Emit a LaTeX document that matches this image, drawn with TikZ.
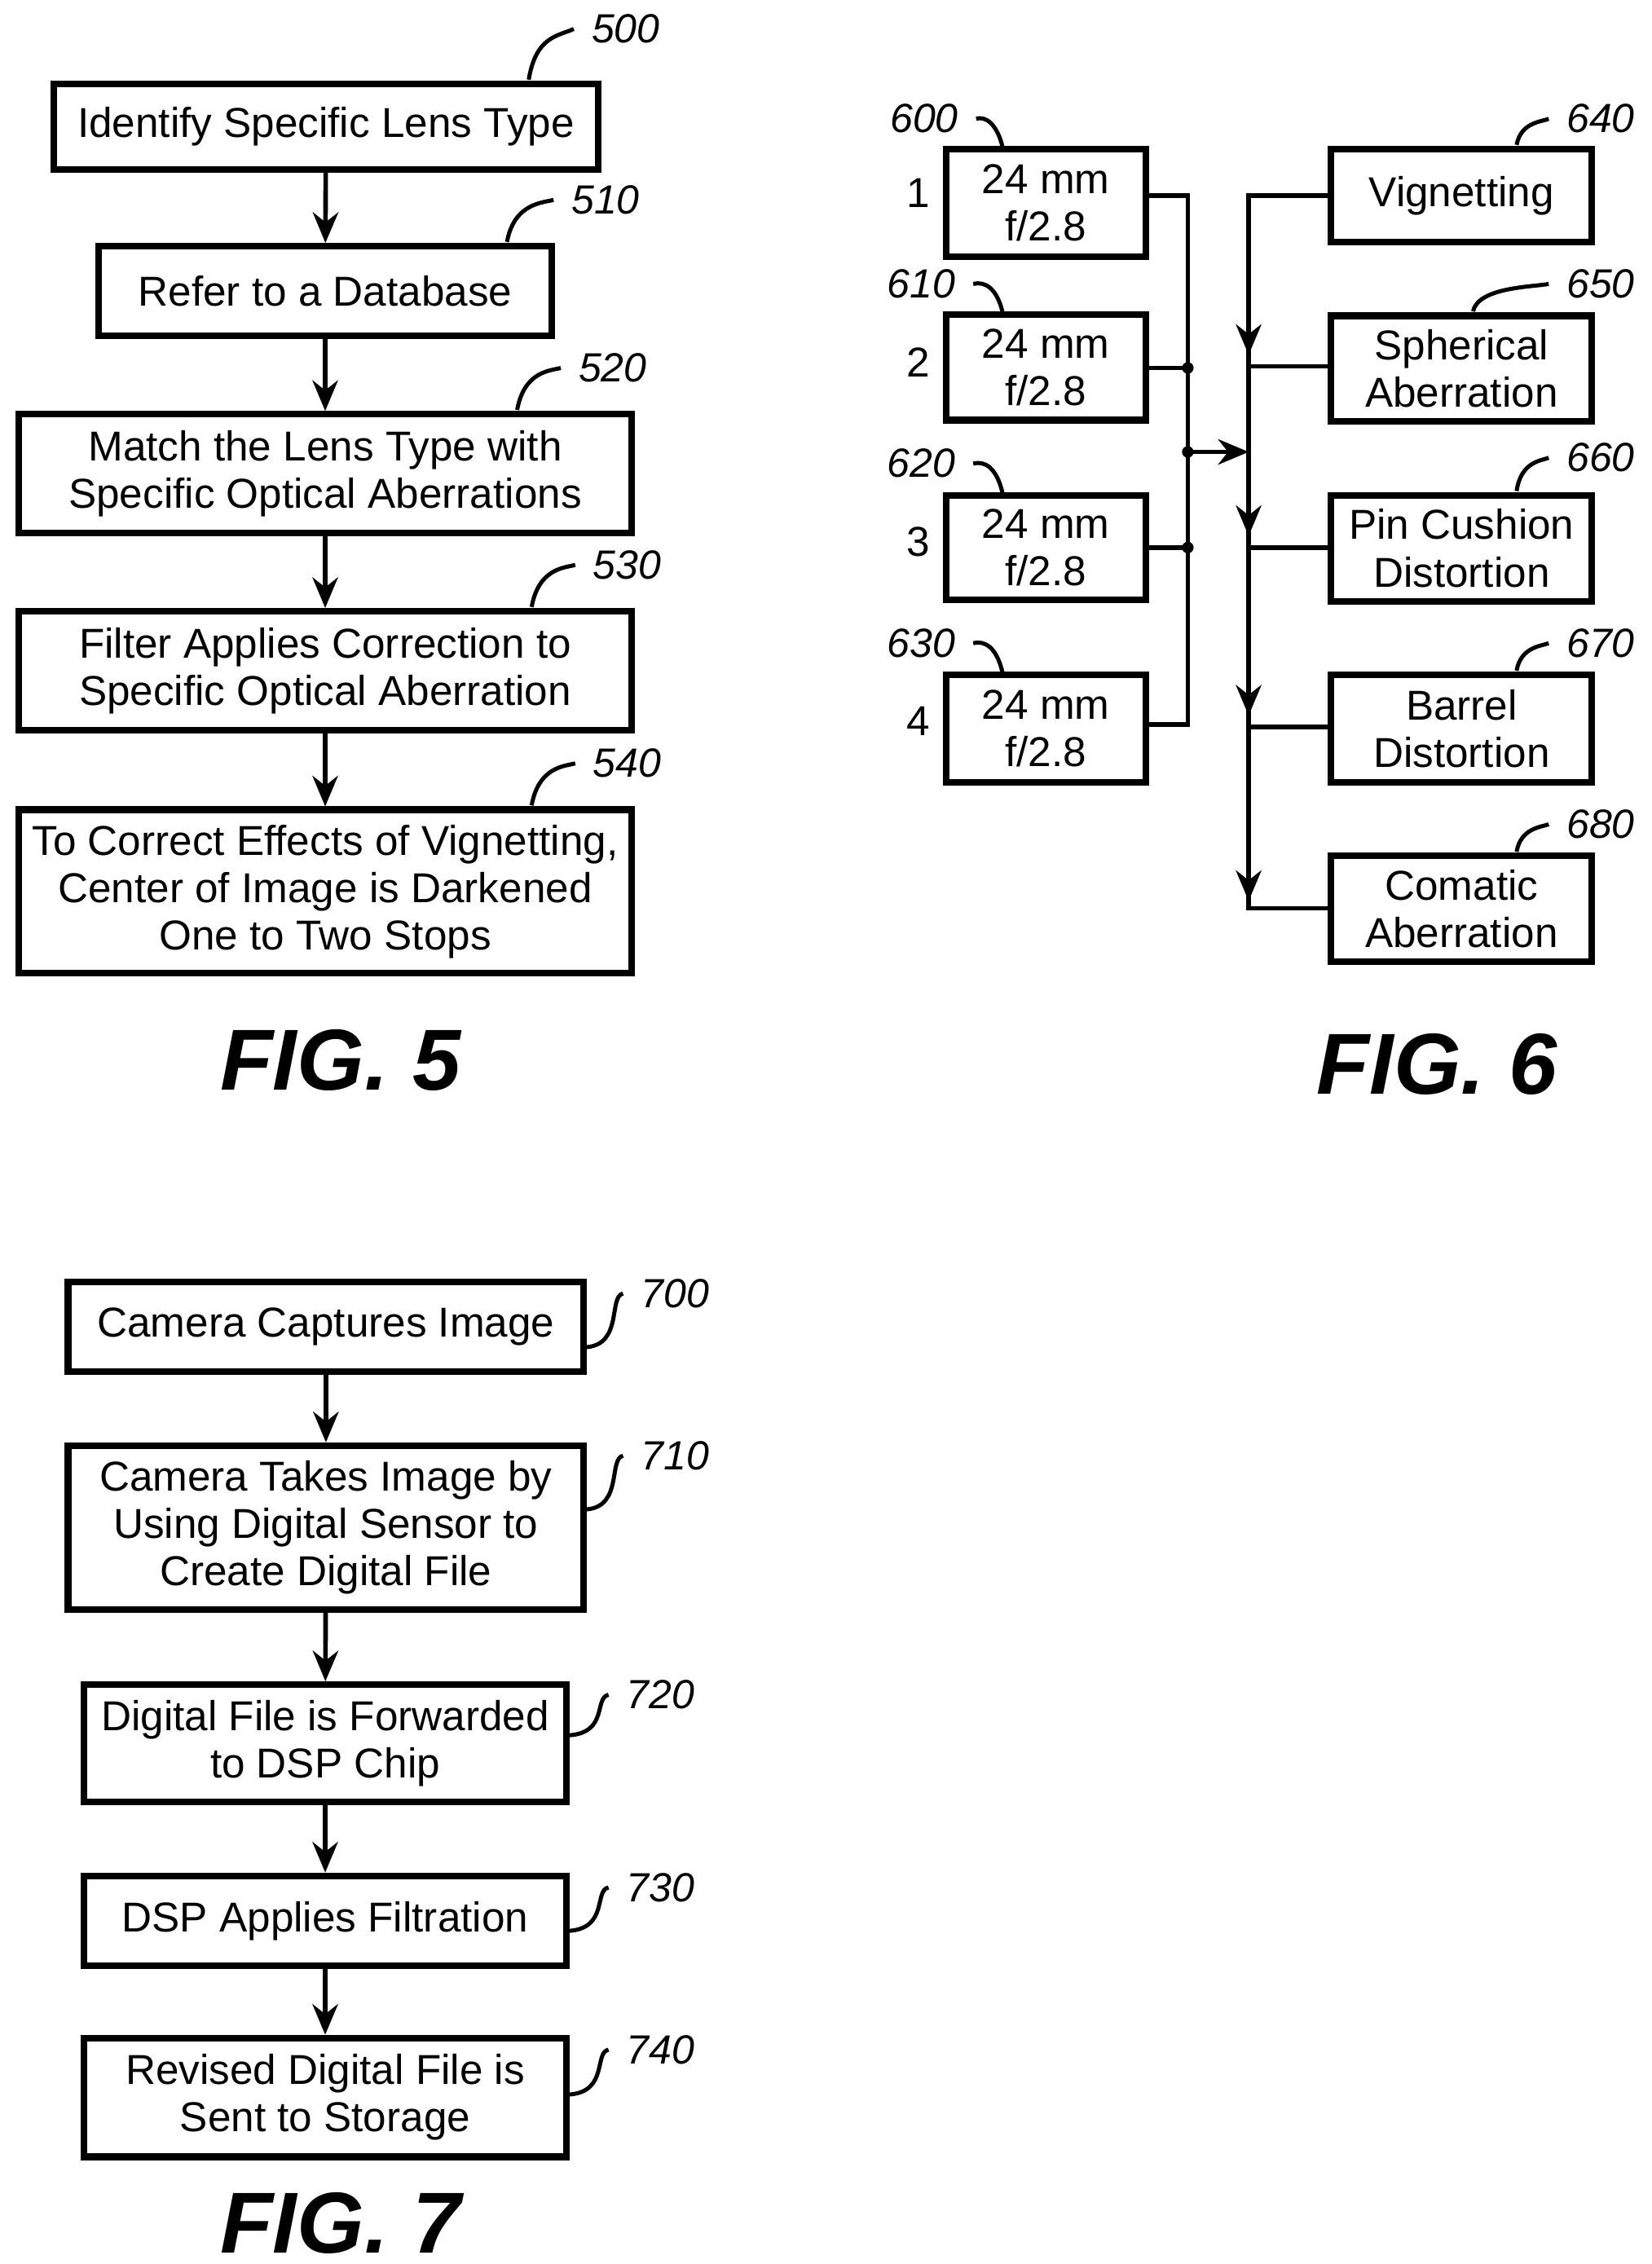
\documentclass[tikz,border=0pt]{standalone}
\usepackage{fontspec}
\setmainfont{Liberation Sans}
\usetikzlibrary{arrows.meta}
\begin{document}
\begin{tikzpicture}[x=0.01cm,y=-0.01cm,
  bx/.style={draw,line width=1.3pt,align=center,font=\fontsize{8.2}{9.3}\selectfont,inner sep=0pt},
  ar/.style={line width=0.9pt,-{Stealth[length=6pt,width=5pt]}},
  ln/.style={line width=0.9pt},
  lab/.style={font=\itshape\fontsize{8}{10}\selectfont},
  fig/.style={font=\bfseries\itshape\fontsize{17}{20}\selectfont},
  sq/.style={line width=0.8pt}]
\useasboundingbox (0,0) rectangle (1140,1563);
\newcommand{\bxat}[6]{\node[bx,minimum width={(#3-#2)*0.01cm},minimum height={(#5-#4)*0.01cm}] (#1) at ({(#2+#3)/2},{(#4+#5)/2}) {#6};}
% FIG 5
\bxat{b500}{37}{413}{58}{117}{Identify Specific Lens Type}
\bxat{b510}{68}{381}{170}{232}{Refer to a Database}
\bxat{b520}{13}{436}{286}{368}{Match the Lens Type with\\Specific Optical Aberrations}
\bxat{b530}{13}{436}{422}{504}{Filter Applies Correction to\\Specific Optical Aberration}
\bxat{b540}{13}{436}{559}{672}{To Correct Effects of Vignetting,\\Center of Image is Darkened\\One to Two Stops}
\draw[ar] (b500) -- (b510); \draw[ar] (b510) -- (b520); \draw[ar] (b520) -- (b530); \draw[ar] (b530) -- (b540);
\node[lab] (l500) at (432,20) {500}; \node[lab] (l510) at (418,138) {510}; \node[lab] (l520) at (423,254) {520};
\node[lab] (l530) at (433,390) {530}; \node[lab] (l540) at (433,527) {540};
\coordinate (s500) at (365,55); \draw[sq] (s500) .. controls (370,25) and (385,25) .. (l500.west);
\coordinate (s510) at (350,167); \draw[sq] (s510) .. controls (355,140) and (375,140) .. (l510.west);
\coordinate (s520) at (357,283); \draw[sq] (s520) .. controls (362,256) and (380,256) .. (l520.west);
\coordinate (s530) at (367,419); \draw[sq] (s530) .. controls (372,392) and (390,392) .. (l530.west);
\coordinate (s540) at (367,556); \draw[sq] (s540) .. controls (372,529) and (390,529) .. (l540.west);
\node[fig] (f5) at (235,732) {FIG. 5};
% FIG 6
\bxat{b600}{653}{791}{103}{177}{24 mm\\f/2.8}
\bxat{b610}{653}{791}{217}{290}{24 mm\\f/2.8}
\bxat{b620}{653}{791}{342}{414}{24 mm\\f/2.8}
\bxat{b630}{653}{791}{466}{540}{24 mm\\f/2.8}
\node[font=\fontsize{8.2}{10}\selectfont] (n1) at (634,133) {1};
\node[font=\fontsize{8.2}{10}\selectfont] (n2) at (634,250) {2};
\node[font=\fontsize{8.2}{10}\selectfont] (n3) at (634,374) {3};
\node[font=\fontsize{8.2}{10}\selectfont] (n4) at (634,498) {4};
\node[lab] (l600) at (638,82) {600}; \node[lab] (l610) at (636,196) {610};
\node[lab] (l620) at (636,320) {620}; \node[lab] (l630) at (636,444) {630};
\coordinate (s600) at (692,101); \draw[sq] (l600.east) .. controls (680,80) and (688,85) .. (s600);
\coordinate (s610) at (692,215); \draw[sq] (l610.east) .. controls (680,194) and (688,199) .. (s610);
\coordinate (s620) at (692,340); \draw[sq] (l620.east) .. controls (680,318) and (688,323) .. (s620);
\coordinate (s630) at (692,464); \draw[sq] (l630.east) .. controls (680,442) and (688,447) .. (s630);
\bxat{b640}{919}{1099}{103}{167}{Vignetting}
\bxat{b650}{919}{1099}{218}{291}{Spherical\\Aberration}
\bxat{b660}{919}{1099}{342}{415}{Pin Cushion\\Distortion}
\bxat{b670}{919}{1099}{466}{540}{Barrel\\Distortion}
\bxat{b680}{919}{1099}{591}{664}{Comatic\\Aberration}
\node[lab] (l640) at (1105,82) {640}; \node[lab] (l650) at (1105,196) {650};
\node[lab] (l660) at (1105,316) {660}; \node[lab] (l670) at (1105,444) {670};
\node[lab] (l680) at (1105,569) {680};
\coordinate (s640) at (1047,100); \draw[sq] (s640) .. controls (1050,84) and (1065,84) .. (l640.west);
\coordinate (s650) at (1017,215); \draw[sq] (s650) .. controls (1020,198) and (1060,198) .. (l650.west);
\coordinate (s660) at (1047,339); \draw[sq] (s660) .. controls (1050,318) and (1065,318) .. (l660.west);
\coordinate (s670) at (1047,463); \draw[sq] (s670) .. controls (1050,446) and (1065,446) .. (l670.west);
\coordinate (s680) at (1047,588); \draw[sq] (s680) .. controls (1050,571) and (1065,571) .. (l680.west);
\coordinate (lb1) at (820,135); \coordinate (lb2) at (820,254); \coordinate (lb3) at (820,378); \coordinate (lb4) at (820,500);
\coordinate (jm) at (820,312); \coordinate (jr) at (862,312);
\draw[ln] (b600.east|-lb1) -- (lb1) -- (lb4) -- (b630.east|-lb4);
\draw[ln] (b610.east|-lb2) -- (lb2); \draw[ln] (b620.east|-lb3) -- (lb3);
\fill (lb2) circle (4); \fill (lb3) circle (4); \fill (jm) circle (4);
\draw[ar] (jm) -- (jr);
\coordinate (rb1) at (862,135); \coordinate (rb2) at (862,253); \coordinate (rb3) at (862,378);
\coordinate (rb4) at (862,502); \coordinate (rb5) at (862,627);
\draw[ln] (b640.west|-rb1) -- (rb1) -- (rb5) -- (b680.west|-rb5);
\draw[ln] (rb2) -- (b650.west|-rb2); \draw[ln] (rb3) -- (b660.west|-rb3); \draw[ln] (rb4) -- (b670.west|-rb4);
\draw[ar] (862,200) -- (862,245); \draw[ar] (862,330) -- (862,370);
\draw[ar] (862,450) -- (862,494); \draw[ar] (862,580) -- (862,622);
\node[fig] (f6) at (992,735) {FIG. 6};
% FIG 7
\bxat{b700}{47}{403}{885}{947}{Camera Captures Image}
\bxat{b710}{47}{403}{998}{1111}{Camera Takes Image by\\Using Digital Sensor to\\Create Digital File}
\bxat{b720}{58}{391}{1163}{1244}{Digital File is Forwarded\\to DSP Chip}
\bxat{b730}{58}{391}{1295}{1357}{DSP Applies Filtration}
\bxat{b740}{58}{391}{1407}{1489}{Revised Digital File is\\Sent to Storage}
\draw[ar] (b700) -- (b710); \draw[ar] (b710) -- (b720); \draw[ar] (b720) -- (b730); \draw[ar] (b730) -- (b740);
\node[lab] (l700) at (466,893) {700}; \node[lab] (l710) at (466,1005) {710};
\node[lab] (l720) at (456,1170) {720}; \node[lab] (l730) at (456,1303) {730};
\node[lab] (l740) at (456,1415) {740};
\coordinate (s700) at (405,930); \draw[sq] (s700) .. controls (430,928) and (420,895) .. (l700.west);
\coordinate (s710) at (405,1042); \draw[sq] (s710) .. controls (430,1040) and (420,1007) .. (l710.west);
\coordinate (s720) at (393,1198) ; \draw[sq] (s720) .. controls (420,1196) and (410,1172) .. (l720.west);
\coordinate (s730) at (393,1333); \draw[sq] (s730) .. controls (420,1331) and (410,1305) .. (l730.west);
\coordinate (s740) at (393,1446); \draw[sq] (s740) .. controls (420,1444) and (410,1417) .. (l740.west);
\node[fig] (f7) at (235,1535) {FIG. 7};
\end{tikzpicture}
\end{document}
